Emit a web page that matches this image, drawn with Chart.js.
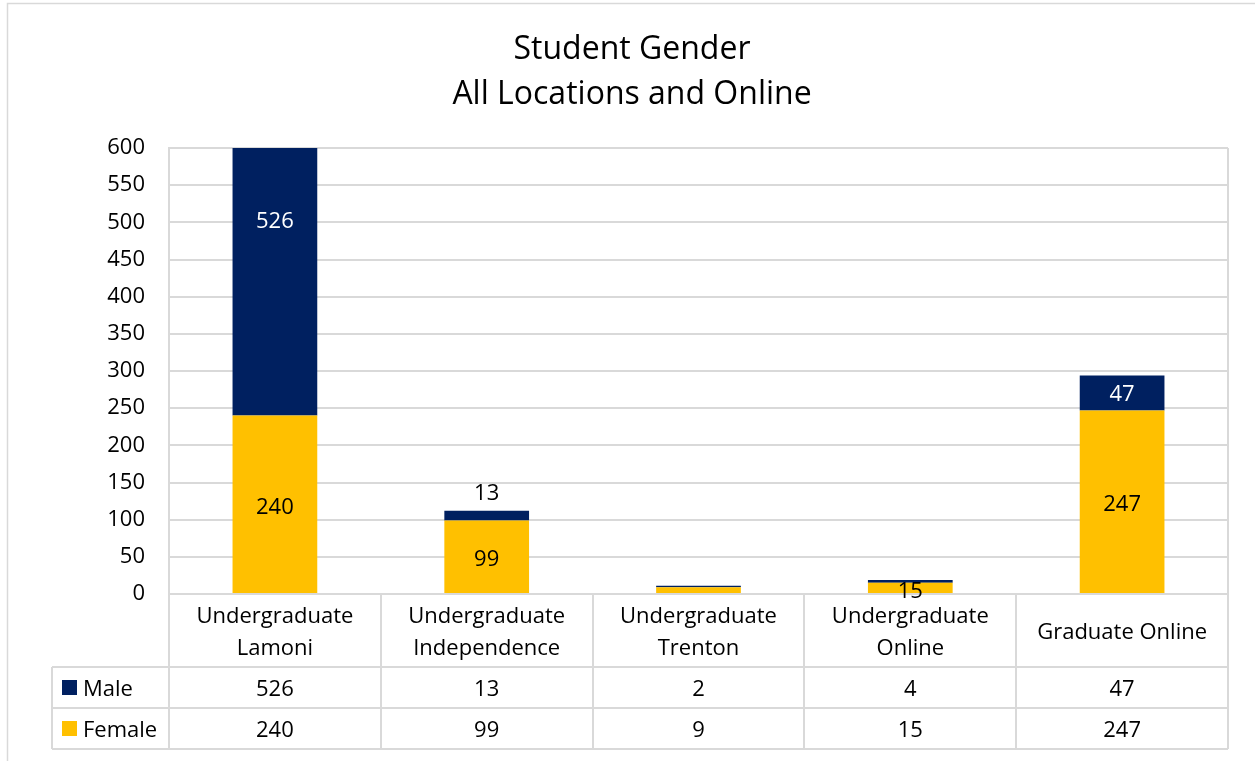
<!DOCTYPE html>
<html>
<head>
<meta charset="utf-8">
<script src="https://cdn.jsdelivr.net/npm/chart.js@4.4.1/dist/chart.umd.min.js"></script>
<style>
  html, body { margin: 0; padding: 0; background: #fff; }
  #wrap { position: relative; width: 1255px; height: 761px; }
</style>
</head>
<body>
<div id="wrap"><canvas id="gender_chart" width="1255" height="761"></canvas></div>
<script>
// chart data
var titleLines = ['Student Gender', 'All Locations and Online'];
var categories = [
    ['Undergraduate', 'Lamoni'],
    ['Undergraduate', 'Independence'],
    ['Undergraduate', 'Trenton'],
    ['Undergraduate', 'Online'],
    ['Graduate Online']
];
var seriesNames = ['Male', 'Female'];
var maleCounts = [526, 13, 2, 4, 47];
var femaleCounts = [240, 99, 9, 15, 247];
// which bar labels Excel actually showed
var showMaleLabel = [true, true, false, false, true];
var showFemaleLabel = [true, true, false, true, true];

var MALE_COLOR = '#002060';
var FEMALE_COLOR = '#FFC000';
var GRID = '#d9d9d9';
var FONT = '"Open Sans", "Noto Sans", sans-serif';
var BODY_SIZE = 22;
var TEXT_NUDGE = 2; // canvas 'middle' sits a bit high for this font

var ctx = document.getElementById('gender_chart').getContext('2d');

// draws the title, value labels and the data table under the plot
var tablePlugin = {
    id: 'excelTable',
    afterDatasetsDraw: function (chart) {
        var c = chart.ctx;
        var y = chart.scales.y;
        var x = chart.scales.x;
        c.save();
        c.font = BODY_SIZE + 'px ' + FONT;
        c.textAlign = 'center';
        c.textBaseline = 'middle';
        for (var i = 0; i < categories.length; i++) {
            var cx = x.getPixelForValue(i);
            if (showFemaleLabel[i]) {
                c.fillStyle = '#000';
                c.fillText(String(femaleCounts[i]), cx, y.getPixelForValue(femaleCounts[i] / 2) + 3);
            }
            if (showMaleLabel[i]) {
                var top = y.getPixelForValue(femaleCounts[i] + maleCounts[i]);
                var bottom = y.getPixelForValue(femaleCounts[i]);
                if (bottom - top < 20) {
                    c.fillStyle = '#000';
                    c.fillText(String(maleCounts[i]), cx, top - 17);
                } else {
                    c.fillStyle = '#fff';
                    c.fillText(String(maleCounts[i]), cx, y.getPixelForValue(femaleCounts[i] + maleCounts[i] / 2) + TEXT_NUDGE);
                }
            }
        }
        c.restore();
    },
    afterDraw: function (chart) {
        var c = chart.ctx;
        var area = chart.chartArea;
        var x = chart.scales.x;
        var colW = (area.right - area.left) / categories.length;
        var rowTop = area.bottom, rowCat = 667, rowMale = 708, rowFemale = 749;
        var tableLeft = 52;

        c.save();
        // outer chart border
        c.strokeStyle = GRID;
        c.lineWidth = 1.5;
        c.strokeRect(7.5, 3.5, 1270, 770);

        // title
        c.fillStyle = '#000';
        c.font = '32px ' + FONT;
        c.textAlign = 'center';
        c.textBaseline = 'middle';
        c.fillText(titleLines[0], 632, 48 + TEXT_NUDGE);
        c.fillText(titleLines[1], 632, 93 + TEXT_NUDGE);

        // table grid
        c.strokeStyle = GRID;
        c.lineWidth = 2;
        c.beginPath();
        [rowCat, rowMale, rowFemale].forEach(function (ry) {
            c.moveTo(tableLeft, ry);
            c.lineTo(area.right, ry);
        });
        c.moveTo(tableLeft, rowCat); c.lineTo(tableLeft, rowFemale);
        c.moveTo(area.left, rowTop); c.lineTo(area.left, rowFemale);
        for (var i = 1; i < categories.length; i++) {
            var bx = Math.round(area.left + colW * i);
            c.moveTo(bx, rowTop); c.lineTo(bx, rowFemale);
        }
        c.moveTo(area.right, area.top); c.lineTo(area.right, rowFemale);
        c.stroke();

        // category names and values
        c.fillStyle = '#000';
        c.font = BODY_SIZE + 'px ' + FONT;
        for (var j = 0; j < categories.length; j++) {
            var cx = x.getPixelForValue(j);
            var lines = categories[j];
            var mid = (rowTop + rowCat) / 2 + TEXT_NUDGE;
            for (var l = 0; l < lines.length; l++) {
                c.fillText(lines[l], cx, mid + (l - (lines.length - 1) / 2) * 32);
            }
            c.fillText(String(maleCounts[j]), cx, (rowCat + rowMale) / 2 + TEXT_NUDGE);
            c.fillText(String(femaleCounts[j]), cx, (rowMale + rowFemale) / 2 + TEXT_NUDGE);
        }

        // legend keys in the first column
        c.textAlign = 'left';
        c.fillStyle = MALE_COLOR;
        c.fillRect(62, 680, 15, 15);
        c.fillStyle = FEMALE_COLOR;
        c.fillRect(62, 721, 15, 15);
        c.fillStyle = '#000';
        c.fillText(seriesNames[0], 83, (rowCat + rowMale) / 2 + TEXT_NUDGE);
        c.fillText(seriesNames[1], 83, (rowMale + rowFemale) / 2 + TEXT_NUDGE);
        c.restore();
    }
};

var genderChart = new Chart(ctx, {
    type: 'bar',
    data: {
        labels: categories,
        // female first so it sits at the bottom of the stack
        datasets: [{
            label: seriesNames[1],
            data: femaleCounts,
            backgroundColor: FEMALE_COLOR
        }, {
            label: seriesNames[0],
            data: maleCounts,
            backgroundColor: MALE_COLOR
        }]
    },
    options: {
        responsive: false,
        animation: false,
        devicePixelRatio: 1,
        layout: {
            padding: { top: 148, left: 0, right: 27, bottom: 167 }
        },
        datasets: {
            bar: { barPercentage: 0.8, categoryPercentage: 0.5 }
        },
        scales: {
            x: {
                stacked: true,
                display: false
            },
            y: {
                stacked: true,
                min: 0,
                max: 600,
                afterFit: function (scale) { scale.width = 169; },
                ticks: {
                    stepSize: 50,
                    padding: 24,
                    color: '#000',
                    font: { family: FONT, size: 22 }
                },
                grid: { color: GRID, lineWidth: 2, drawTicks: false },
                border: { display: true, color: GRID, width: 2 }
            }
        },
        plugins: {
            legend: { display: false },
            title: { display: false },
            tooltip: { enabled: false }
        }
    },
    plugins: [tablePlugin]
});
</script>
</body>
</html>
